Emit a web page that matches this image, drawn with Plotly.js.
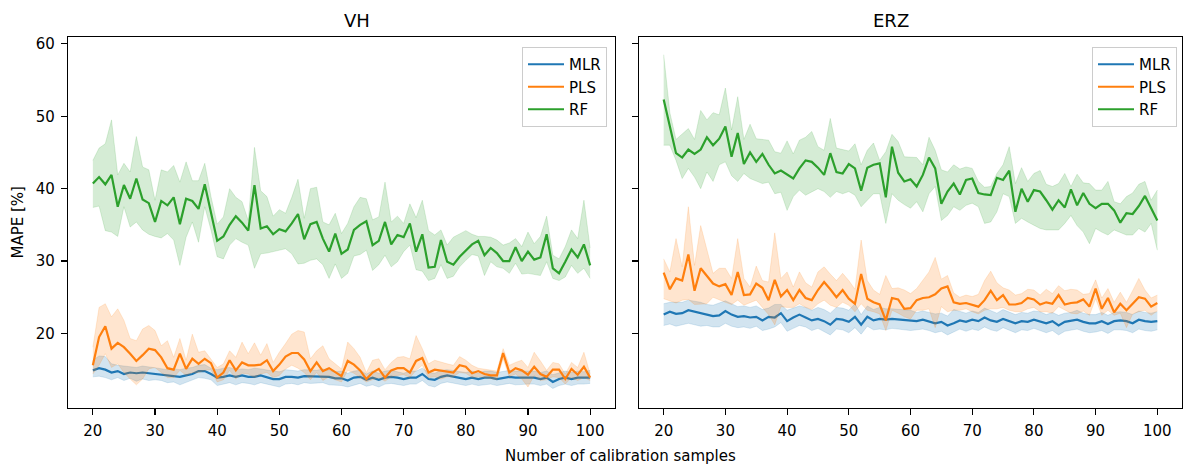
<!DOCTYPE html>
<html>
<head>
<meta charset="utf-8">
<script src="https://cdn.plot.ly/plotly-3.0.1.min.js"></script>
<style>html,body{margin:0;padding:0;background:#fff;}#chart{width:1183px;height:465px;}</style>
</head>
<body>
<div id="chart"></div>
<script>
// Number of calibration samples (20..100)
const samples = [20,21,22,23,24,25,26,27,28,29,30,31,32,33,34,35,36,37,38,39,40,41,42,43,44,45,46,47,48,49,50,51,52,53,54,55,56,57,58,59,60,61,62,63,64,65,66,67,68,69,70,71,72,73,74,75,76,77,78,79,80,81,82,83,84,85,86,87,88,89,90,91,92,93,94,95,96,97,98,99,100];
const panelTitles = ["VH", "ERZ"];
const modelNames = ["MLR", "PLS", "RF"];
const xTicks = [20,30,40,50,60,70,80,90,100];
const yTicks = [20,30,40,50,60];

// ---- VH ----
const vhMlrMean = [14.9,15.2,15.0,14.6,14.8,14.4,14.6,14.5,14.6,14.5,14.5,14.3,14.2,14.2,14.0,14.2,14.4,14.8,14.8,14.4,13.9,14.0,14.2,14.0,14.2,14.0,14.0,14.2,14.0,13.7,13.7,14.0,14.0,13.9,14.1,14.1,14.1,14.1,14.0,13.8,13.8,
  13.5,13.9,14.0,13.6,13.9,13.6,13.9,14.0,13.9,13.7,13.9,13.9,14.4,13.7,13.6,14.0,14.2,14.0,13.9,13.7,13.9,13.7,13.9,13.9,13.7,13.9,14.0,13.9,13.9,13.9,13.9,13.7,13.9,13.3,13.7,13.9,13.7,13.9,13.9,13.9];
const vhMlrUpper = [16.3,16.9,16.8,15.8,15.6,15.5,15.4,15.3,15.5,15.4,15.3,15.2,15.0,15.1,15.0,15.2,15.3,15.6,15.7,15.2,15.0,15.2,15.3,15.0,15.1,15.0,15.2,15.1,14.9,14.8,14.7,15.0,14.9,14.8,15.0,15.0,14.9,15.1,14.9,14.7,14.8,
  14.5,14.8,14.9,14.4,14.8,14.5,14.8,14.9,14.7,14.5,14.8,14.8,15.2,14.6,14.5,14.9,15.0,14.9,14.8,14.6,14.8,14.5,14.8,14.8,14.6,14.7,14.9,14.8,14.8,14.7,14.8,14.6,14.8,14.3,14.6,14.8,14.6,14.8,14.7,14.9];
const vhMlrLower = [14.0,14.1,13.9,13.6,13.9,13.5,13.8,13.4,13.7,13.5,13.6,13.5,13.2,13.3,12.9,13.2,13.5,13.9,13.8,13.6,12.8,13.0,13.2,12.9,13.2,13.1,12.9,13.2,13.0,12.8,12.6,13.0,13.1,12.9,13.2,13.1,13.2,13.2,12.9,12.9,12.8,
  12.6,12.9,13.1,12.7,12.9,12.6,13.0,13.1,12.9,12.8,13.0,13.0,13.5,12.8,12.6,13.1,13.3,13.1,12.9,12.8,13.0,12.8,12.9,13.0,12.8,13.0,13.1,12.9,13.0,13.0,13.0,12.8,13.0,12.4,12.8,13.0,12.8,13.0,13.0,13.1];

const vhPlsMean = [15.6,19.5,21.0,17.9,18.7,18.1,17.2,16.2,17.0,17.9,17.7,16.7,15.2,15.0,17.2,15.1,16.5,15.8,16.5,15.9,13.9,14.6,16.3,14.9,16.0,15.6,15.6,15.7,16.3,14.8,15.7,16.8,17.3,17.3,16.4,14.8,16.0,14.8,15.2,14.6,14.1,
  16.2,15.7,14.9,13.7,14.6,15.1,13.9,14.9,15.2,15.2,14.6,16.2,16.6,14.6,15.0,14.9,14.8,14.6,15.6,15.4,14.5,14.8,14.4,14.2,14.2,17.3,14.6,15.2,14.9,14.3,15.4,14.4,14.0,15.0,15.0,13.7,15.1,14.3,15.4,13.9];
const vhPlsUpper = [18.1,23.6,24.1,22.3,23.4,21.8,19.3,19.0,20.6,21.1,20.4,18.3,19.0,16.7,19.3,16.3,19.9,17.4,17.6,16.5,15.3,15.8,17.6,16.7,18.8,17.2,18.7,17.0,18.6,16.0,17.4,18.6,19.9,20.4,20.2,16.5,17.6,18.3,16.5,15.8,15.1,
  18.8,17.9,16.7,14.6,16.3,16.5,15.0,16.0,16.7,16.8,16.5,19.7,17.9,15.8,16.3,16.0,15.8,15.6,16.8,16.3,15.6,15.2,15.1,14.9,14.8,17.9,15.6,16.0,16.3,15.3,17.4,16.2,14.9,16.0,15.8,14.4,16.0,15.3,17.4,14.4];
const vhPlsLower = [14.4,15.6,17.2,15.3,15.8,14.6,13.7,12.9,13.7,15.1,15.3,14.6,13.9,13.9,14.9,14.2,14.6,14.6,14.9,15.0,13.3,13.6,14.9,13.7,14.5,14.4,13.9,14.4,14.6,13.9,14.2,15.1,15.6,15.2,14.6,13.6,14.6,13.5,14.0,13.6,13.3,
  14.9,14.5,13.9,13.3,13.6,13.9,13.4,14.0,14.2,14.3,13.9,14.9,15.6,13.9,14.0,13.7,14.0,14.0,14.6,14.5,13.9,14.0,13.9,13.7,13.6,16.5,14.0,14.4,13.7,12.6,14.2,13.5,13.6,14.0,13.9,13.0,13.9,13.5,13.9,13.5];

const vhRfMean = [40.7,41.6,40.6,41.9,37.5,40.5,38.6,41.4,38.5,38.0,35.4,38.3,37.7,38.8,35.1,38.6,38.3,37.2,40.6,36.8,32.8,33.4,35.0,36.2,35.3,34.2,40.5,34.5,34.8,33.7,34.4,34.1,35.2,36.5,33.0,35.1,35.4,33.1,31.3,33.8,31.0,
  31.6,34.3,35.0,35.5,32.2,32.8,35.4,32.3,33.6,33.3,35.2,31.3,33.7,29.1,29.2,32.9,29.9,29.5,30.6,31.5,32.3,32.8,30.8,31.8,31.1,30.0,30.0,31.9,30.0,31.3,30.2,30.5,33.7,29.0,28.3,29.9,31.6,30.5,32.3,29.4];
const vhRfUpper = [43.9,45.6,46.2,49.5,41.9,43.5,42.3,47.2,43.0,42.6,38.4,42.6,42.3,43.2,40.9,43.7,41.1,41.1,43.5,38.9,35.1,36.1,40.0,38.8,38.2,35.6,45.7,39.7,38.9,36.2,37.1,36.6,38.8,41.3,35.9,40.0,40.2,35.4,35.0,36.6,33.8,
  35.2,37.5,38.8,38.6,35.7,36.1,40.9,35.4,36.2,35.2,37.9,36.0,38.4,34.2,33.6,34.3,32.2,33.3,33.7,34.2,33.7,33.4,33.4,33.3,32.9,32.2,32.5,33.1,32.0,34.0,32.4,33.4,36.2,30.8,30.3,32.0,34.3,33.1,38.4,31.8];
const vhRfLower = [37.4,37.6,34.2,34.0,33.4,37.5,34.7,35.4,34.3,33.7,33.4,33.2,33.8,32.9,29.4,33.3,35.4,32.6,37.5,34.3,30.6,30.3,32.2,33.1,32.6,32.2,29.0,31.0,31.1,31.3,31.5,31.7,31.0,29.6,29.7,30.1,30.3,29.5,27.6,29.6,27.6,
  28.3,30.7,30.9,31.5,28.7,29.5,30.8,29.2,29.9,31.3,32.2,28.8,28.6,27.3,27.6,29.5,27.6,27.9,29.2,30.1,30.9,30.7,28.0,29.9,29.2,29.0,28.3,29.7,28.2,28.3,28.2,28.0,29.9,27.6,27.3,27.8,29.4,28.3,29.0,27.6];

// ---- ERZ ----
const erzMlrMean = [22.6,23.0,22.7,22.8,23.2,23.0,22.8,22.7,22.4,22.5,23.1,22.6,22.3,22.4,22.2,22.3,21.8,22.3,22.2,22.8,21.7,22.2,22.6,22.2,21.8,22.0,21.7,21.2,22.0,21.9,21.6,22.3,21.2,22.3,21.8,22.0,21.9,22.0,21.9,21.8,21.7,
  21.7,21.9,21.7,21.4,21.6,21.1,21.4,21.8,21.6,21.9,21.7,22.2,21.8,21.6,22.0,21.7,21.4,21.7,21.6,21.9,21.7,21.4,21.7,21.1,21.6,21.7,21.9,21.6,21.4,21.4,21.7,21.3,21.7,21.8,21.7,21.4,21.9,21.7,21.6,21.7];
const erzMlrUpper = [24.1,24.3,24.3,24.3,24.6,24.5,24.3,24.0,23.9,24.2,24.5,24.1,23.7,23.8,23.6,23.8,23.3,23.5,24.0,24.0,23.2,23.5,23.8,23.6,23.2,23.6,23.3,22.8,23.6,23.5,23.2,24.1,22.6,23.8,23.3,23.6,23.4,23.4,23.3,23.3,23.2,
  22.9,23.1,22.9,22.7,22.8,22.4,23.3,23.0,22.8,23.1,22.9,23.5,23.1,22.8,23.3,23.0,22.6,22.9,22.8,23.1,23.0,22.6,22.9,22.5,22.8,22.9,23.2,22.8,22.6,22.6,22.9,22.5,22.9,23.0,22.9,22.6,23.1,22.9,22.8,23.0];
const erzMlrLower = [21.1,21.3,21.0,21.2,21.4,21.2,21.0,21.1,20.9,20.9,21.4,21.0,20.8,20.9,20.7,21.0,20.4,20.6,20.9,21.5,20.3,20.7,21.1,20.9,20.4,20.7,20.3,19.8,20.6,20.5,20.1,20.8,19.9,21.0,20.5,20.6,20.5,20.7,20.6,20.5,20.4,
  20.5,20.6,20.4,20.1,20.3,19.8,20.2,20.6,20.3,20.6,20.4,20.9,20.5,20.3,20.8,20.4,20.1,20.5,20.4,20.7,20.4,20.1,20.4,19.8,20.3,20.4,20.6,20.3,20.1,20.2,20.4,20.0,20.5,20.5,20.4,20.1,20.6,20.4,20.3,20.5];

const erzPlsMean = [28.4,26.1,27.6,27.3,30.9,25.9,29.0,27.9,26.9,26.5,26.8,25.3,28.5,25.3,25.4,26.9,26.3,24.6,27.4,25.1,26.0,24.6,26.0,24.9,24.6,26.0,27.1,26.1,25.0,26.0,24.8,24.1,28.2,24.8,24.3,24.0,21.8,24.9,24.7,23.4,23.5,
  24.6,24.9,25.0,25.4,26.2,26.5,24.3,24.1,24.2,23.9,23.7,24.6,25.9,24.6,25.3,24.0,24.0,24.2,24.9,24.7,24.0,24.3,24.1,25.3,24.0,24.2,24.3,24.7,23.7,26.2,23.4,24.9,22.9,24.1,23.2,24.1,25.0,24.8,23.7,24.2];
const erzPlsUpper = [30.3,28.5,33.1,29.2,37.5,29.4,34.9,31.6,28.3,29.0,29.0,27.6,33.1,27.6,26.4,29.3,27.3,27.1,33.9,27.6,28.5,26.4,28.5,27.0,26.4,28.5,29.2,28.2,27.3,28.3,27.3,26.1,32.9,27.3,26.0,25.4,28.0,26.2,26.3,26.0,25.5,
  26.2,27.3,28.5,30.5,27.5,28.0,25.6,25.0,25.3,25.1,25.4,27.3,28.6,27.0,26.3,26.0,25.3,25.5,26.1,26.0,25.3,26.1,25.5,26.6,25.9,26.1,26.0,25.4,25.5,27.4,24.9,26.2,24.3,25.7,24.3,25.9,27.6,26.0,24.9,25.3];
const erzPlsLower = [24.8,24.5,24.2,24.6,24.7,24.0,24.1,24.1,25.0,24.6,24.3,24.0,24.6,23.9,24.2,24.6,23.6,22.6,21.2,23.7,23.6,23.6,24.1,23.6,23.3,24.1,24.6,23.9,23.6,24.3,23.9,23.0,24.1,23.2,23.0,22.7,20.4,23.2,22.8,22.3,22.0,
  23.2,23.2,23.4,20.8,23.7,23.0,23.2,23.2,23.4,23.0,22.7,23.2,23.4,23.4,23.6,23.2,23.0,23.0,23.4,23.6,23.0,23.0,22.8,23.7,23.2,22.8,22.7,23.1,22.5,24.8,22.5,23.2,22.5,22.8,20.8,22.7,23.0,23.2,22.5,23.1];

const erzRfMean = [52.3,48.8,44.9,44.3,45.4,44.8,45.4,47.1,46.0,46.9,48.6,44.4,47.7,43.4,45.0,43.7,44.8,43.3,42.1,42.5,41.9,41.4,42.8,43.9,43.7,42.9,41.9,44.9,42.3,42.1,43.4,42.8,39.7,42.9,43.3,43.5,38.8,45.8,42.2,41.0,41.3,
  40.3,41.9,44.3,42.8,37.9,39.6,40.7,39.2,41.2,41.4,39.4,39.2,39.1,41.5,41.2,42.5,36.8,40.0,38.2,39.8,39.6,38.4,37.1,38.4,37.4,39.9,37.7,39.4,37.9,37.3,37.9,37.9,37.0,35.3,36.6,36.5,37.6,39.0,37.3,35.6];
const erzRfUpper = [58.5,50.5,46.8,47.5,48.3,46.8,50.8,49.5,50.5,50.2,53.9,48.1,52.7,46.8,48.9,46.9,46.8,46.7,45.1,44.9,46.6,44.8,46.7,47.1,47.9,45.8,45.3,49.7,45.6,45.4,45.2,46.2,43.3,45.3,46.3,43.9,45.1,47.5,46.5,44.4,44.3,
  44.3,43.3,47.1,45.3,42.6,42.3,43.3,42.7,43.0,42.8,41.0,40.2,40.3,42.1,43.3,45.8,40.7,42.9,41.0,42.1,42.5,40.6,40.3,40.7,42.1,40.3,42.0,40.8,40.7,39.8,39.8,41.0,38.2,37.9,38.9,39.4,40.6,41.0,38.4,39.8];
const erzRfLower = [46.0,46.0,43.9,41.4,42.8,41.6,40.0,42.3,41.0,43.3,43.7,41.8,41.0,42.1,41.4,41.0,40.7,40.9,39.3,39.5,37.0,38.9,39.8,39.1,39.5,40.0,39.6,38.8,39.6,39.3,39.6,39.1,37.5,38.4,39.3,39.3,35.2,39.3,38.4,37.8,37.3,
  38.2,36.8,39.3,40.3,35.6,36.3,37.5,37.0,37.7,38.0,37.5,35.2,35.4,36.8,39.3,38.9,35.2,35.9,35.4,34.9,34.5,34.3,34.3,34.3,35.2,36.3,34.9,34.0,32.4,34.5,34.0,33.6,34.3,34.0,33.6,33.6,34.5,34.0,35.2,31.5];

const colors = ["#1f77b4", "#ff7f0e", "#2ca02c"];
const bandColors = ["rgba(31,119,180,0.2)", "rgba(255,127,14,0.2)", "rgba(44,160,44,0.2)"];

const panels = [
  {axX: "x", axY: "y", legend: "legend", series: [[vhMlrMean, vhMlrLower, vhMlrUpper], [vhPlsMean, vhPlsLower, vhPlsUpper], [vhRfMean, vhRfLower, vhRfUpper]]},
  {axX: "x2", axY: "y2", legend: "legend2", series: [[erzMlrMean, erzMlrLower, erzMlrUpper], [erzPlsMean, erzPlsLower, erzPlsUpper], [erzRfMean, erzRfLower, erzRfUpper]]}
];

const traces = [];
panels.forEach(p => {
  p.series.forEach((s, i) => {
    traces.push({x: samples, y: s[1], xaxis: p.axX, yaxis: p.axY, type: "scatter", mode: "lines",
      line: {width: 0.8, color: bandColors[i]}, showlegend: false, hoverinfo: "skip"});
    traces.push({x: samples, y: s[2], xaxis: p.axX, yaxis: p.axY, type: "scatter", mode: "lines",
      line: {width: 0.8, color: bandColors[i]}, fill: "tonexty", fillcolor: bandColors[i], showlegend: false, hoverinfo: "skip"});
    traces.push({x: samples, y: s[0], xaxis: p.axX, yaxis: p.axY, type: "scatter", mode: "lines",
      line: {width: 2.2, color: colors[i]}, name: modelNames[i], legend: p.legend, showlegend: true});
  });
});

const fam = "DejaVu Sans, sans-serif";
const font = {family: fam, size: 15, color: "#000"};
const axisCommon = {showgrid: false, zeroline: false, ticks: "outside", ticklen: 6, tickwidth: 1.1, tickcolor: "#000",
  showline: true, linecolor: "#000", linewidth: 1.1, mirror: true, tickfont: font, ticklabelstandoff: 3};

const W = 1114;
const leftDom = [0, (615 - 68) / W];
const rightDom = [(639 - 68) / W, 1];

const legendCommon = {bgcolor: "rgba(255,255,255,0.8)", bordercolor: "#cccccc", borderwidth: 1,
  font: {family: fam, size: 15, color: "#000"}, xanchor: "right", yanchor: "top", y: 0.973,
  tracegroupgap: 0, traceorder: "normal", itemwidth: 36, entrywidth: 48, entrywidthmode: "pixels"};

const layout = {
  width: 1183, height: 465,
  margin: {l: 68, r: 1, t: 37, b: 57},
  paper_bgcolor: "#fff", plot_bgcolor: "#fff",
  font: font,
  xaxis: Object.assign({}, axisCommon, {domain: leftDom, range: [16, 104], tickvals: xTicks, anchor: "y"}),
  xaxis2: Object.assign({}, axisCommon, {domain: rightDom, range: [16, 104], tickvals: xTicks, anchor: "y2"}),
  yaxis: Object.assign({}, axisCommon, {range: [9.7, 60.95], tickvals: yTicks, anchor: "x"}),
  yaxis2: Object.assign({}, axisCommon, {range: [9.7, 60.95], tickvals: yTicks, anchor: "x2", matches: "y", showticklabels: false}),
  legend: Object.assign({}, legendCommon, {x: (607 - 68) / W}),
  legend2: Object.assign({}, legendCommon, {x: (1177 - 68) / W}),
  annotations: [
    {text: panelTitles[0], xref: "paper", yref: "paper", x: (leftDom[0] + leftDom[1]) / 2, y: 1, yanchor: "bottom", yshift: 4, showarrow: false,
      font: {family: fam, size: 18, color: "#000"}},
    {text: panelTitles[1], xref: "paper", yref: "paper", x: (rightDom[0] + rightDom[1]) / 2, y: 1, yanchor: "bottom", yshift: 4, showarrow: false,
      font: {family: fam, size: 18, color: "#000"}},
    {text: "Number of calibration samples", xref: "paper", yref: "paper", x: (620 - 68) / W, y: 0, yanchor: "middle", yshift: -48, showarrow: false,
      font: {family: fam, size: 15, color: "#000"}},
    {text: "MAPE [%]", xref: "paper", yref: "paper", x: (17 - 68) / W, y: 0.5, xanchor: "center", yanchor: "middle", textangle: -90, showarrow: false,
      font: {family: fam, size: 15, color: "#000"}}
  ]
};

Plotly.newPlot("chart", traces, layout, {staticPlot: true, displayModeBar: false});
</script>
</body>
</html>
